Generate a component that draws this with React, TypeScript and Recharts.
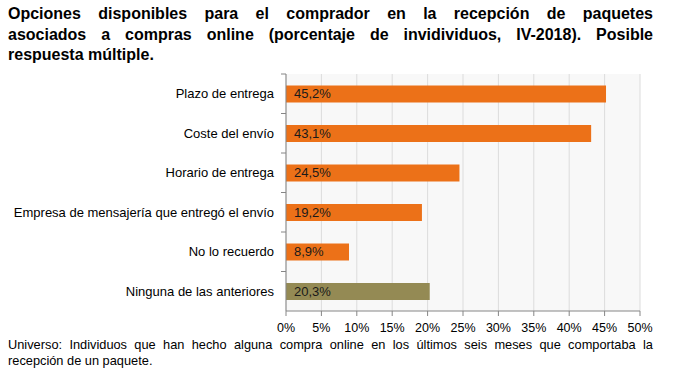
import React from "react";
import { BarChart, Bar, XAxis, YAxis, CartesianGrid, Cell, LabelList } from "recharts";

const categories = [
  "Plazo de entrega",
  "Coste del envío",
  "Horario de entrega",
  "Empresa de mensajería que entregó el envío",
  "No lo recuerdo",
  "Ninguna de las anteriores",
];
const values = [45.2, 43.1, 24.5, 19.2, 8.9, 20.3];
const barColors = ["#EC7118", "#EC7118", "#EC7118", "#EC7118", "#EC7118", "#948A54"];
const xTicks = [0, 5, 10, 15, 20, 25, 30, 35, 40, 45, 50];

const titleLines = [
  "Opciones disponibles para el comprador en la recepción de paquetes",
  "asociados a compras online (porcentaje de invidividuos, IV-2018). Posible",
  "respuesta múltiple.",
];
const noteLines = [
  "Universo: Individuos que han hecho alguna compra online en los últimos seis meses que comportaba la",
  "recepción de un paquete.",
];

const data = categories.map((name, i) => ({ name, value: values[i], color: barColors[i] }));

const FONT = "Arial, 'Liberation Sans', sans-serif";
const BAND = 237 / 6;

const YTick = (props: any) => {
  const { x, y, payload } = props;
  return (
    <g>
      <text x={x - 12} y={y} dy={4.5} textAnchor="end" fontSize={13} fontFamily={FONT} fill="#000">
        {payload.value}
      </text>
      <line x1={x - 5} x2={x} y1={y - BAND / 2} y2={y - BAND / 2} stroke="#868686" />
    </g>
  );
};

const BarLabel = (props: any) => {
  const { x, y, height, value } = props;
  return (
    <text x={x + 8} y={y + height / 2} dy={4.5} fontSize={13} fontFamily={FONT} fill="#1a1a1a">
      {String(value).replace(".", ",") + "%"}
    </text>
  );
};

export default function App() {
  return (
    <div style={{ position: "absolute", left: 0, top: 0, width: 676, height: 375, background: "#fff" }}>
      <div style={{ position: "absolute", left: 0, top: 0 }}>
        <BarChart
          width={676}
          height={375}
          data={data}
          layout="vertical"
          margin={{ top: 74, right: 36, bottom: 34, left: 0 }}
          barCategoryGap="29%"
        >
          <CartesianGrid horizontal={false} stroke="#dcdcdc" fill="#f8f8f8" />
          <XAxis
            type="number"
            domain={[0, 50]}
            ticks={xTicks}
            tickFormatter={(v: number) => v + "%"}
            height={30}
            tickSize={5}
            tickMargin={7}
            axisLine={{ stroke: "#868686" }}
            tickLine={{ stroke: "#868686" }}
            tick={{ fontSize: 12.5, fontFamily: FONT, fill: "#000" }}
            interval={0}
          />
          <YAxis
            type="category"
            dataKey="name"
            width={286}
            tickSize={0}
            tickMargin={0}
            tickLine={false}
            axisLine={{ stroke: "#868686" }}
            tick={<YTick />}
            interval={0}
          />
          <Bar dataKey="value" isAnimationActive={false}>
            {data.map((d, i) => (
              <Cell key={i} fill={d.color} />
            ))}
            <LabelList dataKey="value" content={<BarLabel />} />
          </Bar>
        </BarChart>
      </div>
      <div
        style={{
          position: "absolute",
          left: 8,
          top: 4,
          width: 645,
          fontFamily: FONT,
          fontWeight: "bold",
          fontSize: 16,
          lineHeight: "20.5px",
          color: "#000",
        }}
      >
        {titleLines.map((t, i) => (
          <div
            key={i}
            style={{
              textAlign: "justify",
              textAlignLast: i < titleLines.length - 1 ? "justify" : "left",
              whiteSpace: "nowrap",
            }}
          >
            {t}
          </div>
        ))}
      </div>
      <div
        style={{
          position: "absolute",
          left: 8,
          top: 337,
          width: 645,
          fontFamily: FONT,
          fontSize: 12.8,
          lineHeight: "15.5px",
          color: "#000",
        }}
      >
        {noteLines.map((t, i) => (
          <div
            key={i}
            style={{
              textAlign: "justify",
              textAlignLast: i < noteLines.length - 1 ? "justify" : "left",
            }}
          >
            {t}
          </div>
        ))}
      </div>
    </div>
  );
}
